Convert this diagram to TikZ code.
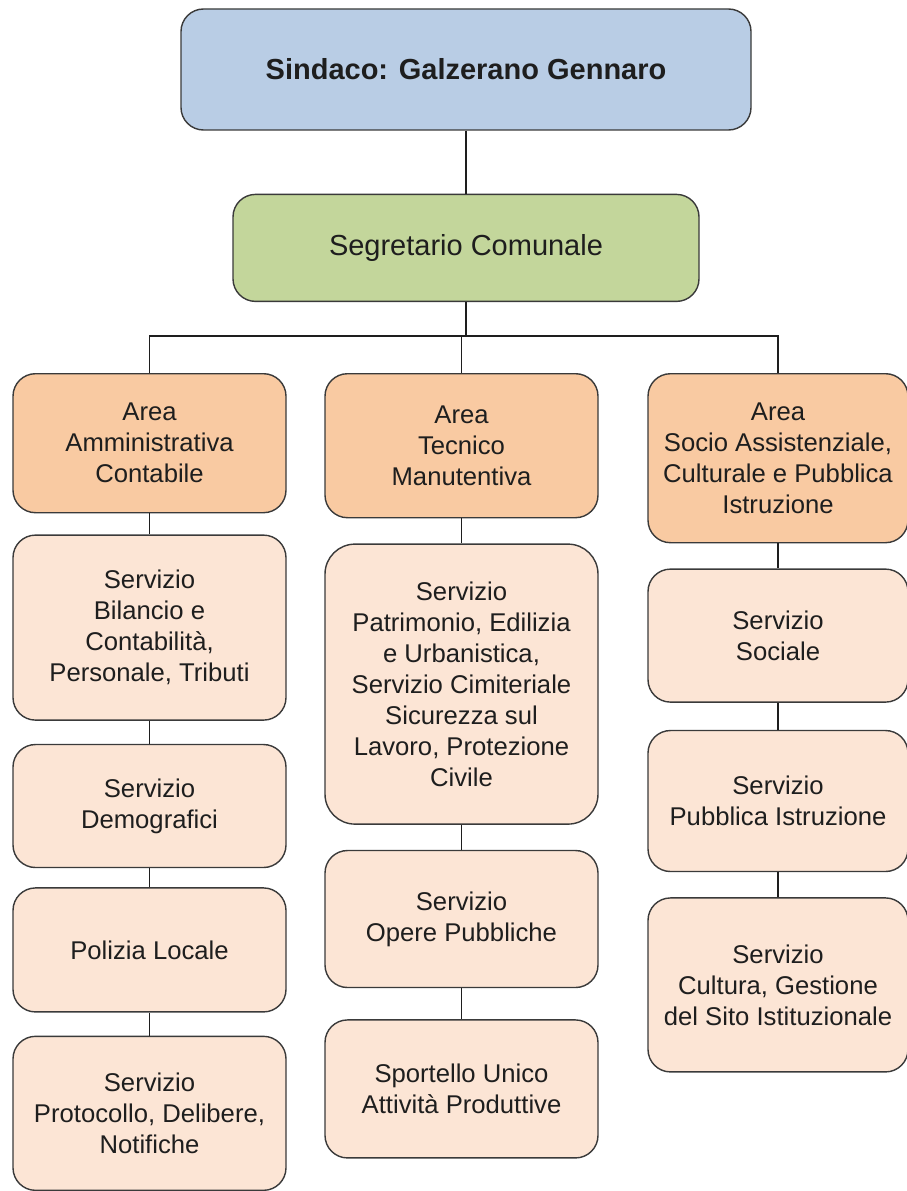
\documentclass[tikz,border=0pt]{standalone}
\usepackage{fontspec}
\setmainfont{Liberation Sans}
\usepackage{xcolor}
\usepackage{tikz}
\usetikzlibrary{positioning}

\definecolor{sindacoblue}{HTML}{B9CDE5}
\definecolor{segrgreen}{HTML}{C3D69B}
\definecolor{areaorange}{HTML}{F9CAA2}
\definecolor{servpeach}{HTML}{FCE5D5}
\definecolor{edgegray}{HTML}{3A3A3A}
\definecolor{textdark}{HTML}{1E1E1E}

\begin{document}
\begin{tikzpicture}[
      box/.style={rectangle, rounded corners=0.45cm, draw=edgegray, line width=0.8pt,
                  inner sep=2pt, align=center, text=textdark,
                  font=\fontsize{14.6}{17.6}\selectfont},
      top/.style={box, minimum width=11.4cm, minimum height=2.42cm,
                  font=\fontsize{16.5}{20}\selectfont\bfseries},
      area/.style={box, fill=areaorange},
      serv/.style={box, fill=servpeach},
      colAB/.style={minimum width=5.46cm},
      colC/.style={minimum width=5.2cm},
      link/.style={draw=textdark, line width=0.7pt}
    ]
    \useasboundingbox (0,0) rectangle (18.14,-23.82);

    % vertici
    \node[top, fill=sindacoblue] (sindaco) at (9.32,-1.39) {Sindaco: Galzerano Gennaro};
    \node[box, fill=segrgreen, minimum width=9.32cm, minimum height=2.14cm,
          font=\fontsize{16.5}{20}\selectfont, below=1.26cm of sindaco] (segretario) {Segretario Comunale};

    % aree
    \node[area, colAB, minimum height=2.78cm, anchor=north] (areaAmm) at (2.99,-7.46) {Area\\Amministrativa\\Contabile};
    \node[area, colAB, minimum height=2.88cm, anchor=north] (areaTec) at (9.23,-7.46) {Area\\Tecnico\\Manutentiva};
    \node[area, colC, minimum height=3.38cm, anchor=north] (areaSoc) at (15.56,-7.46) {Area\\Socio Assistenziale,\\Culturale e Pubblica\\Istruzione};

    % servizi area amministrativa
    \node[serv, colAB, minimum height=3.7cm, below=0.42cm of areaAmm] (bilancio) {Servizio\\Bilancio e\\Contabilità,\\Personale, Tributi};
    \node[serv, colAB, minimum height=2.46cm, below=0.46cm of bilancio] (demografici) {Servizio\\Demografici};
    \node[serv, colAB, minimum height=2.48cm, below=0.38cm of demografici] (polizia) {Polizia Locale};
    \node[serv, colAB, minimum height=3.08cm, below=0.46cm of polizia] (protocollo) {Servizio\\Protocollo, Delibere,\\Notifiche};

    % servizi area tecnica
    \node[serv, colAB, minimum height=5.6cm, rounded corners=0.6cm, below=0.5cm of areaTec] (patrimonio) {Servizio\\Patrimonio, Edilizia\\e Urbanistica,\\Servizio Cimiteriale\\Sicurezza sul\\Lavoro, Protezione\\Civile};
    \node[serv, colAB, minimum height=2.74cm, below=0.5cm of patrimonio] (opere) {Servizio\\Opere Pubbliche};
    \node[serv, colAB, minimum height=2.76cm, below=0.62cm of opere] (sportello) {Sportello Unico\\Attività Produttive};

    % servizi area socio assistenziale
    \node[serv, colC, minimum height=2.66cm, below=0.5cm of areaSoc] (sociale) {Servizio\\Sociale};
    \node[serv, colC, minimum height=2.82cm, below=0.54cm of sociale] (istruzione) {Servizio\\Pubblica Istruzione};
    \node[serv, colC, minimum height=3.48cm, below=0.5cm of istruzione] (cultura) {Servizio\\Cultura, Gestione\\del Sito Istituzionale};

    % collegamenti
    \coordinate (bar) at (segretario.south |- 0,-6.72);
    \draw[link] (sindaco) -- (segretario);
    \draw[link] (segretario.south) -- (bar);
    \draw[link] (areaAmm.north) |- (bar) -| (areaSoc.north);
    \draw[link] (areaTec.north) -- (areaTec.north |- bar);
    \draw[link] (areaAmm) -- (bilancio);
    \draw[link] (bilancio) -- (demografici);
    \draw[link] (demografici) -- (polizia);
    \draw[link] (polizia) -- (protocollo);
    \draw[link] (areaTec) -- (patrimonio);
    \draw[link] (patrimonio) -- (opere);
    \draw[link] (opere) -- (sportello);
    \draw[link] (areaSoc) -- (sociale);
    \draw[link] (sociale) -- (istruzione);
    \draw[link] (istruzione) -- (cultura);
  \end{tikzpicture}
\end{document}
